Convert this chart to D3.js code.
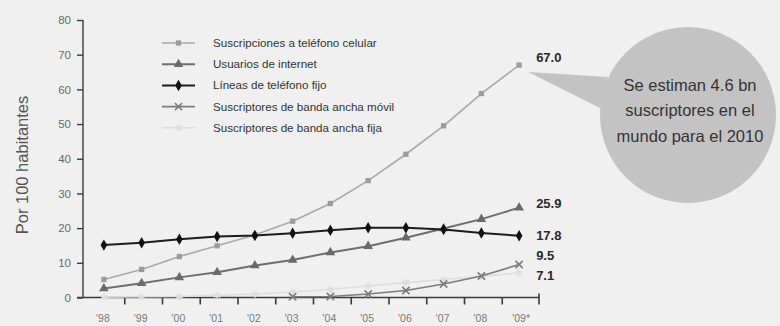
<!DOCTYPE html>
<html>
<head>
<meta charset="utf-8">
<script src="https://cdn.jsdelivr.net/npm/d3@7"></script>
<style>
  html, body { margin: 0; padding: 0; background: #f0f0f0; }
  svg { display: block; font-family: "Liberation Sans", Arial, sans-serif; }
</style>
</head>
<body>
<svg id="chart" width="780" height="326"></svg>
<script>
// Years on the horizontal axis and their printed labels
const years = ["1998","1999","2000","2001","2002","2003","2004","2005","2006","2007","2008","2009"];
const yearLabels = ["'98","'99","'00","'01","'02","'03","'04","'05","'06","'07","'08","'09*"];
const yTicks = [0, 10, 20, 30, 40, 50, 60, 70, 80];

// Per 100 inhabitants
const celular = [5.2, 8.1, 11.8, 14.9, 18.0, 22.0, 27.1, 33.7, 41.3, 49.5, 58.8, 67.0];
const internet = [2.6, 4.1, 5.8, 7.3, 9.2, 10.8, 13.0, 14.8, 17.2, 19.9, 22.6, 25.9];
const fijo = [15.1, 15.8, 16.8, 17.6, 17.9, 18.5, 19.4, 20.1, 20.1, 19.6, 18.6, 17.8];
const bandaMovil = [null, null, null, null, null, 0.2, 0.3, 1.0, 2.0, 3.9, 6.2, 9.5];
const bandaFija = [0.1, 0.2, 0.3, 0.6, 1.0, 1.6, 2.4, 3.3, 4.3, 5.2, 6.1, 7.1];

const seriesNames = [
  "Suscripciones a teléfono celular",
  "Usuarios de internet",
  "Líneas de teléfono fijo",
  "Suscriptores de banda ancha móvil",
  "Suscriptores de banda ancha fija"
];

const calloutLines = ["Se estiman 4.6 bn", "suscriptores en el", "mundo para el 2010"];

// Drawing styles per series
const styles = [
  { values: celular,    stroke: "#a9a9a9", fill: "#9c9c9c", width: 1.6, symbol: d3.symbolSquare,   size: 28, stroked: false, labelDy: -8 },
  { values: internet,   stroke: "#6e6e6e", fill: "#6a6a6a", width: 2,   symbol: d3.symbolTriangle, size: 40, stroked: false, labelDy: -4.5 },
  { values: fijo,       stroke: "#1c1c1c", fill: "#111111", width: 2,   symbol: d3.symbolDiamond,  size: 38, stroked: false, labelDy: 0 },
  { values: bandaMovil, stroke: "#7c7c7c", fill: "none",    width: 1.6, symbol: d3.symbolTimes,    size: 36, stroked: true,  labelDy: -9 },
  { values: bandaFija,  stroke: "#dedede", fill: "none",    width: 1.6, symbol: d3.symbolAsterisk, size: 40, stroked: true,  labelDy: 3 }
];

const svg = d3.select("#chart");

const x = d3.scaleBand().domain(years).range([85, 538]).padding(0);
const cx = d => x(d) + x.bandwidth() / 2;
const y = d3.scaleLinear().domain([0, 80]).range([297.5, 20]);

// Y axis
const yAxis = svg.append("g").attr("transform", "translate(83,0)")
  .call(d3.axisLeft(y).tickValues(yTicks).tickSize(6).tickPadding(6).tickFormat(d3.format("d")));
yAxis.select(".domain").attr("stroke", "#3a3a3a").attr("stroke-width", 1.4).attr("d", `M0,${y(80)}V${y(0)}`);
yAxis.selectAll(".tick line").attr("stroke", "#3a3a3a").attr("stroke-width", 1.4);
yAxis.selectAll(".tick text").attr("fill", "#6a6a6a").attr("font-size", 11.5)
  .attr("font-family", "Liberation Sans, Arial, sans-serif");

// X axis: ticks between years, labels under each year
const xAxis = svg.append("g").attr("transform", `translate(0,${y(0)})`);
xAxis.append("line").attr("x1", 77).attr("x2", 539).attr("stroke", "#3a3a3a").attr("stroke-width", 1.6);
xAxis.selectAll("line.tk").data(years).join("line").attr("class", "tk")
  .attr("x1", (d, i) => i === years.length - 1 ? 539 : x(d) + x.bandwidth() + 2)
  .attr("x2", (d, i) => i === years.length - 1 ? 539 : x(d) + x.bandwidth() + 2)
  .attr("y1", (d, i) => i === years.length - 1 ? -4 : 0)
  .attr("y2", 7)
  .attr("stroke", "#3a3a3a").attr("stroke-width", 1.6);
xAxis.selectAll("text").data(years).join("text")
  .attr("x", (d, i) => cx(d) + (i === years.length - 1 ? 2 : -1))
  .attr("y", 24.5)
  .attr("text-anchor", "middle")
  .attr("fill", "#7a7a7a").attr("font-size", 10.5)
  .text((d, i) => yearLabels[i]);

// Y axis title
svg.append("text")
  .attr("transform", "translate(22,165) rotate(-90)")
  .attr("text-anchor", "middle")
  .attr("dy", "0.35em")
  .attr("fill", "#555").attr("font-size", 16.5)
  .text("Por 100 habitantes");

// Series lines and markers (draw light ones first)
const drawOrder = [4, 3, 0, 1, 2];
const line = d3.line().defined(d => d.v !== null).x(d => cx(d.year)).y(d => y(d.v));

drawOrder.forEach(si => {
  const s = styles[si];
  const pts = years.map((yr, i) => ({ year: yr, v: s.values[i] }));
  const g = svg.append("g");
  g.append("path").datum(pts)
    .attr("d", line).attr("fill", "none")
    .attr("stroke", s.stroke).attr("stroke-width", s.width).attr("stroke-linejoin", "round");
  g.selectAll("path.m").data(pts.filter(d => d.v !== null)).join("path").attr("class", "m")
    .attr("transform", d => `translate(${cx(d.year)},${y(d.v)})`)
    .attr("d", d3.symbol().type(s.symbol).size(s.size))
    .attr("fill", s.stroked ? "none" : s.fill)
    .attr("stroke", s.stroked ? s.stroke : "none")
    .attr("stroke-width", s.stroked ? 1.6 : 0);
});

// End-of-series value labels
const last = years[years.length - 1];
styles.forEach(s => {
  const v = s.values[s.values.length - 1];
  svg.append("text")
    .attr("x", cx(last) + 17)
    .attr("y", y(v) + s.labelDy)
    .attr("dy", "0.35em")
    .attr("fill", "#2a2a2a").attr("font-size", 13).attr("font-weight", "bold")
    .text(d3.format(".1f")(v));
});

// Legend
const legend = svg.append("g").attr("transform", "translate(162,43)");
styles.forEach((s, i) => {
  const row = legend.append("g").attr("transform", `translate(0,${i * 21.2})`);
  row.append("line").attr("x1", 0).attr("x2", 33)
    .attr("stroke", s.stroke).attr("stroke-width", s.width);
  row.append("path").attr("transform", "translate(16.5,0)")
    .attr("d", d3.symbol().type(s.symbol).size(s.size))
    .attr("fill", s.stroked ? "none" : s.fill)
    .attr("stroke", s.stroked ? s.stroke : "none")
    .attr("stroke-width", s.stroked ? 1.6 : 0);
  row.append("text").attr("x", 51).attr("dy", "0.35em")
    .attr("fill", "#333").attr("font-size", 11.6)
    .text(seriesNames[i]);
});

// Callout bubble pointing at the latest mobile value
const bx = 688, by = 115, br = 88;
const tipX = cx(last) + 9, tipY = y(celular[celular.length - 1]) + 7;
const callout = svg.append("g");
callout.append("path")
  .attr("d", `M${tipX},${tipY}L${bx - 80},${by - 38}L${bx - 86},${by - 6}Z`)
  .attr("fill", "#c3c3c3");
callout.append("circle").attr("cx", bx).attr("cy", by).attr("r", br).attr("fill", "#c3c3c3");
callout.selectAll("text").data(calloutLines).join("text")
  .attr("x", bx + 2).attr("y", (d, i) => 85 + i * 25.5)
  .attr("dy", "0.35em")
  .attr("text-anchor", "middle")
  .attr("fill", "#333").attr("font-size", 16.5)
  .text(d => d);
</script>
</body>
</html>
